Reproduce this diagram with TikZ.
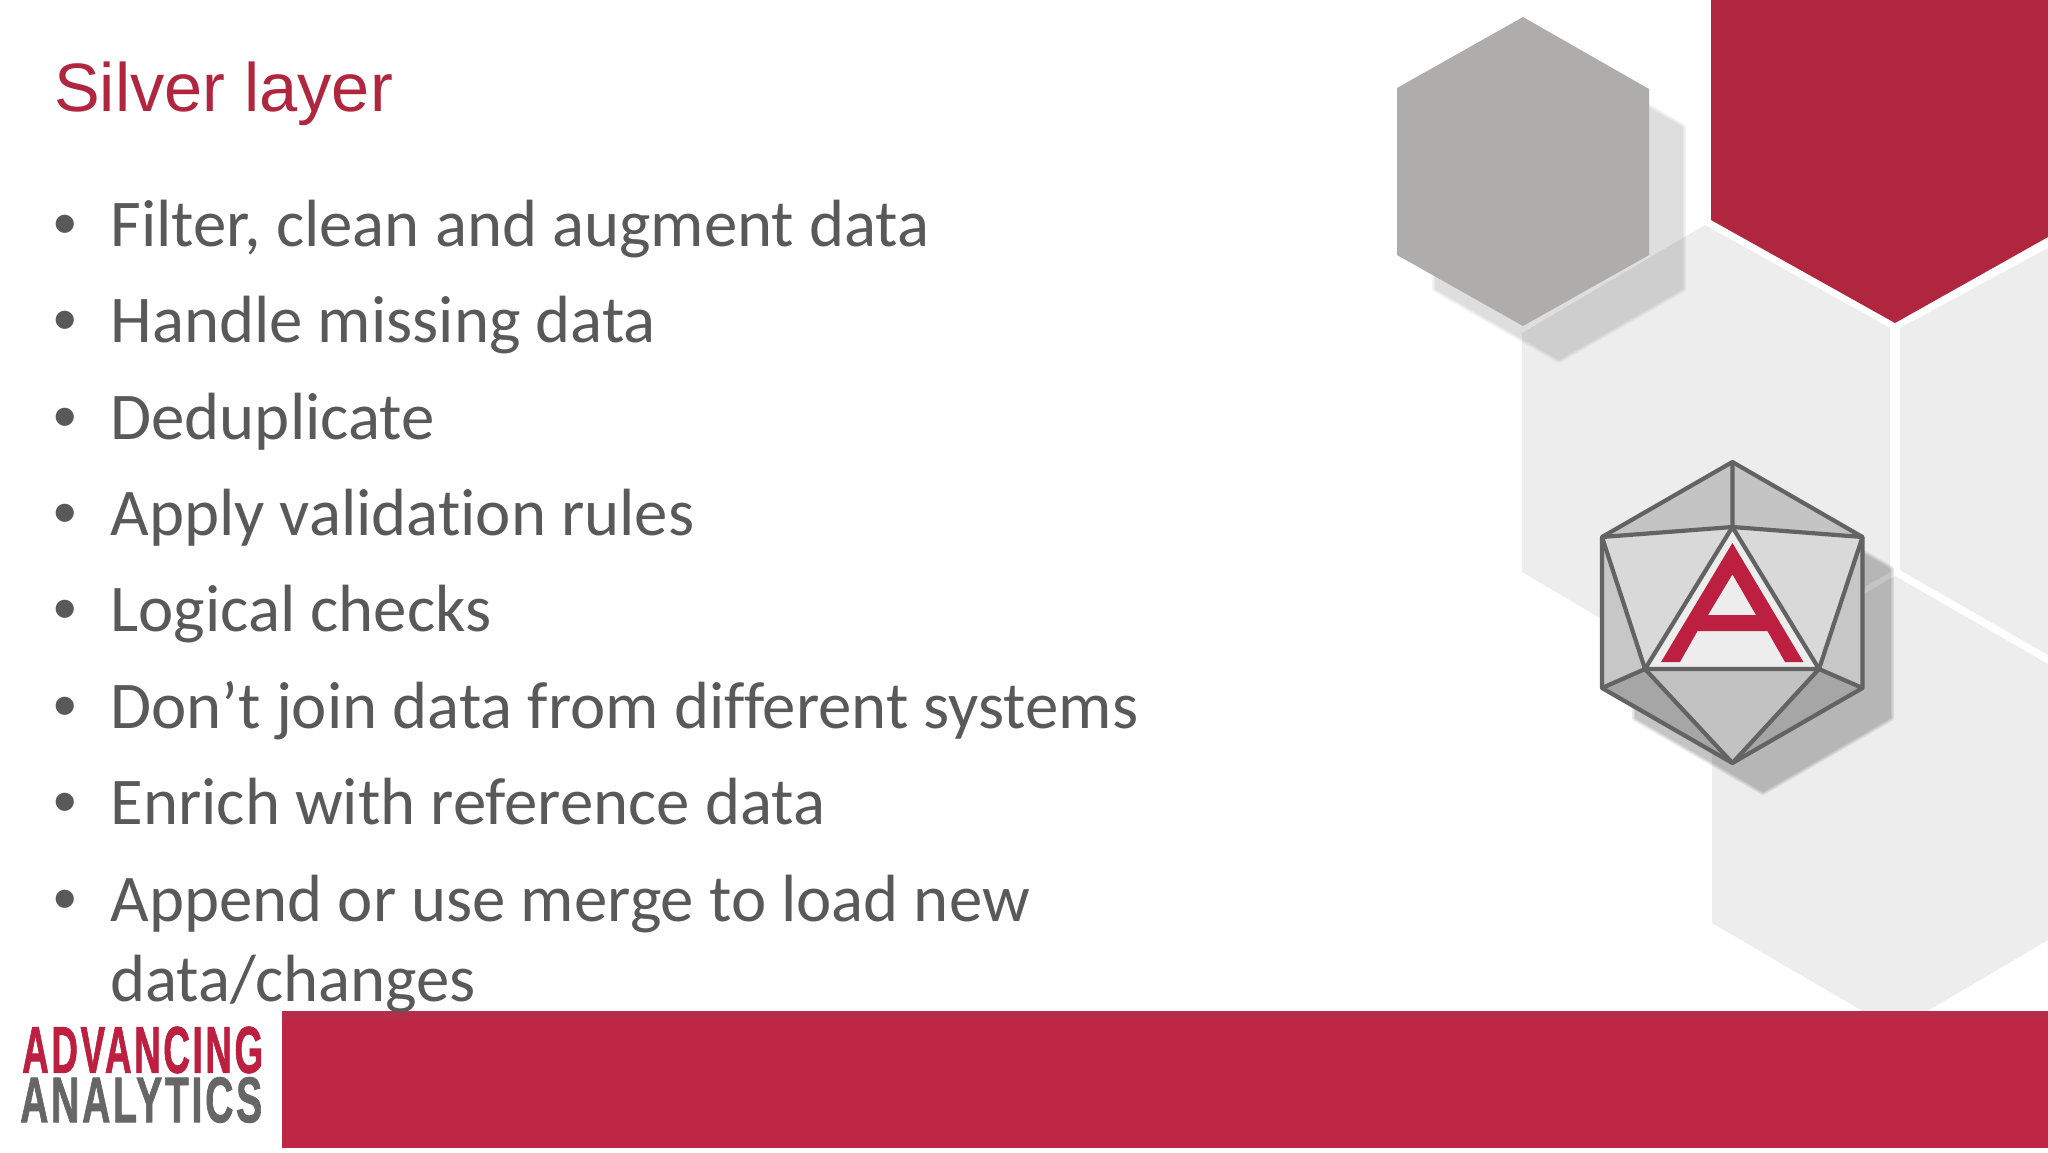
\documentclass[tikz,border=0pt]{standalone}
\usepackage{fontspec}
\setmainfont{Carlito}[Ligatures=NoCommon]
\newfontfamily\titlefont{Liberation Sans}
\newfontfamily\bulletfont{Liberation Sans}
\newfontfamily\logofont{Liberation Sans Bold}[FakeBold=1.5,LetterSpace=7]
\definecolor{hexred}{HTML}{B0263F}
\definecolor{bandred}{HTML}{BF2544}
\definecolor{bandtop}{HTML}{B72D49}
\definecolor{hexlight}{HTML}{EDEDED}
\definecolor{hexgrey}{HTML}{AEADAC}
\definecolor{bodygrey}{HTML}{595959}
\definecolor{logoline}{HTML}{636363}
\definecolor{logored}{HTML}{BC1F3F}
\definecolor{logogrey}{HTML}{666666}
\tikzset{
  bodytext/.style={anchor=base west,inner sep=0pt,outer sep=0pt,text=bodygrey,font=\fontsize{66.8}{66.8}\selectfont},
  bulletmark/.style={anchor=base west,inner sep=0pt,outer sep=0pt,text=bodygrey,font=\bulletfont\fontsize{67}{67}\selectfont},
  facet/.style={draw=logoline,line width=4.2pt,line join=round},
}
\newcommand{\softhex}[2]{%
  \foreach \strokew in {6,3,0.1}{
    \begin{scope}[transparency group,opacity=#1]
      \filldraw[black,line width=\strokew pt,line join=round] #2;
    \end{scope}
  }%
}
\begin{document}
\begin{tikzpicture}[x=1pt,y=-1pt]
\useasboundingbox (0,0) rectangle (2048,1152);
\fill[white] (0,0) rectangle (2048,1152);
% pale hexagons
\fill[hexlight] (1705,225) -- (1890,328) -- (1890,572) -- (1705,680) -- (1522,572) -- (1522,333) -- cycle;
\fill[hexlight] (1900,328) -- (2048,248) -- (2048,655) -- (1900,570) -- cycle;
\fill[hexlight] (1712,683) -- (1895,576) -- (2048,664) -- (2048,940) -- (1895,1030) -- (1712,923) -- cycle;
% red hexagon
\fill[hexred] (1711,0) -- (2048,0) -- (2048,237) -- (1895,323) -- (1711,220) -- cycle;
% grey hexagon with shadow
\softhex{.042}{(1559,55) -- (1683,127) -- (1683,289) -- (1559,360) -- (1435,289) -- (1435,126) -- cycle}
\fill[hexgrey] (1523,17) -- (1649,89) -- (1649,255) -- (1523,326) -- (1397,255) -- (1397,88) -- cycle;
% logo shadow
\softhex{.083}{(1763,495) -- (1891,569) -- (1891,718) -- (1763,792) -- (1635,718) -- (1635,569) -- cycle}
% logo coordinates
\coordinate (T) at (1732.4,462);
\coordinate (UR) at (1862.5,537);
\coordinate (LR) at (1862.5,688);
\coordinate (B) at (1732.4,763);
\coordinate (LL) at (1602,688);
\coordinate (UL) at (1602,537);
\coordinate (Ap) at (1732.4,527);
\coordinate (Le) at (1645,669);
\coordinate (Ri) at (1819,669);
% logo faces
\fill[black!23] (T) -- (UR) -- (Ap) -- cycle;
\fill[black!23] (T) -- (UL) -- (Ap) -- cycle;
\fill[black!15] (UL) -- (Ap) -- (Le) -- cycle;
\fill[black!15] (UR) -- (Ap) -- (Ri) -- cycle;
\fill[black!22] (UL) -- (LL) -- (Le) -- cycle;
\fill[black!22] (UR) -- (LR) -- (Ri) -- cycle;
\fill[black!24] (Le) -- (Ri) -- (B) -- cycle;
\fill[black!35] (LL) -- (Le) -- (B) -- cycle;
\fill[black!35] (LR) -- (Ri) -- (B) -- cycle;
\fill[hexlight] (Ap) -- (Le) -- (Ri) -- cycle;
% logo letter
\fill[logored,even odd rule] (1732.4,543) -- (1803.4,662) -- (1785,662) -- (1767.4,631) -- (1697.5,631) -- (1680,662) -- (1661,662) -- cycle
  (1732.4,574.3) -- (1756,615) -- (1708,615) -- cycle;
% logo edges
\draw[facet] (T) -- (UR) -- (LR) -- (B) -- (LL) -- (UL) -- cycle;
\draw[facet] (T) -- (Ap) (UL) -- (Ap) -- (UR);
\draw[facet] (UL) -- (Le) (UR) -- (Ri) (LL) -- (Le) (LR) -- (Ri);
\draw[facet] (Ap) -- (Le) -- (Ri) -- cycle;
\draw[facet] (Le) -- (B) -- (Ri);
% footer band
\fill[bandred] (282,1011) rectangle (2048,1148);
\fill[bandtop] (282,1011) rectangle (2048,1020);
% footer wordmark
\node[inner sep=0pt,anchor=south west,text=logored] (adv) at (22,1073.5) {\resizebox{241pt}{46pt}{\logofont ADVANCING}};
\node[inner sep=0pt,anchor=south west,text=logogrey] (ana) at (20,1123) {\resizebox{242pt}{45pt}{\logofont ANALYTICS}};
% title
\node[anchor=base west,inner sep=0pt,text=hexred,font=\titlefont\fontsize{68.5}{68.5}\selectfont] (title) at (54,111) {Silver layer};
% bullets
\foreach \nm/\yy in {a/246.3,b/342.7,c/439.3,d/535.3,e/631.9,f/728.3,g/824.3,h/921.3}{
  \node[bulletmark] (bul\nm) at (53,\yy) {•};
}
\node[bodytext] (ta) at (110.5,246.3) {Filter, clean and augment data};
\node[bodytext] (tb) at (110.5,342.7) {Handle missing data};
\node[bodytext] (tc) at (110.5,439.3) {Deduplicate};
\node[bodytext] (td) at (110.5,535.3) {Apply validation rules};
\node[bodytext] (te) at (110.5,631.9) {Logical checks};
\node[bodytext] (tf) at (110.5,728.3) {Don’t join data from different systems};
\node[bodytext] (tg) at (110.5,824.3) {Enrich with reference data};
\node[bodytext] (th) at (110.5,921.3) {Append or use merge to load new};
\node[bodytext] (ti) at (110.5,1001.3) {data/changes};
\end{tikzpicture}
\end{document}
